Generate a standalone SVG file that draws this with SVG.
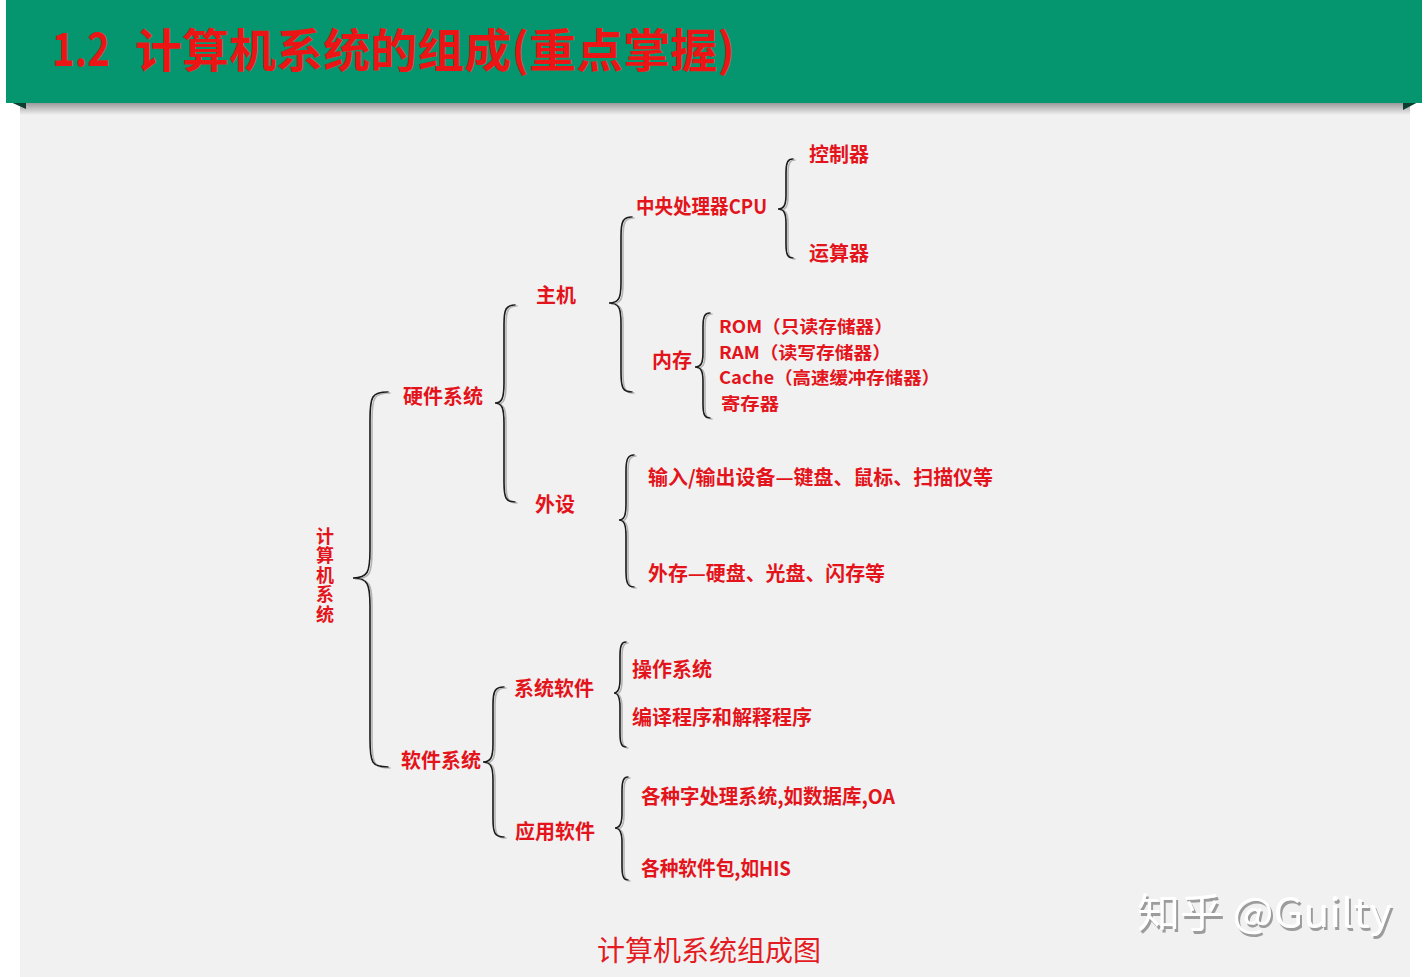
<svg xmlns="http://www.w3.org/2000/svg" width="1427" height="977" viewBox="0 0 1427 977">
  <style>
    .lbl { font-family: "Noto Sans CJK SC", "Liberation Sans", sans-serif; font-size: 20px; font-weight: bold; fill: #e3141b; }
    .mem { font-family: "Noto Sans CJK SC", "Liberation Sans", sans-serif; font-size: 17.5px; font-weight: bold; fill: #e3141b; }
    .root { font-family: "Noto Sans CJK SC", "Liberation Sans", sans-serif; font-size: 18px; font-weight: bold; fill: #e3141b; writing-mode: vertical-rl; text-orientation: upright; letter-spacing: 1.5px; }
    .brace { fill: none; stroke: #1a1a1a; stroke-width: 1.6; stroke-linecap: round; }
    .title { font-family: "Noto Sans CJK SC", "Liberation Sans", sans-serif; font-weight: bold; fill: #ec1515; }
  </style>
  <defs>
    <filter id="braceShadow" x="-20%" y="-5%" width="140%" height="110%">
      <feOffset in="SourceAlpha" dx="2" dy="1" result="off"/>
      <feFlood flood-color="#b4b4b4"/>
      <feComposite in2="off" operator="in" result="sh"/>
      <feMerge><feMergeNode in="sh"/><feMergeNode in="SourceGraphic"/></feMerge>
    </filter>
    <filter id="markShadow" x="-5%" y="-20%" width="110%" height="140%">
      <feOffset in="SourceAlpha" dx="2" dy="3" result="off"/>
      <feFlood flood-color="#9c9c9c"/>
      <feComposite in2="off" operator="in" result="sh"/>
      <feMerge><feMergeNode in="sh"/><feMergeNode in="SourceGraphic"/></feMerge>
    </filter>
    <linearGradient id="bandShade" x1="0" y1="0" x2="0" y2="1">
      <stop offset="0" stop-color="#9a9a9a"/>
      <stop offset="1" stop-color="#f1f1f1"/>
    </linearGradient>
  </defs>

  <!-- page -->
  <rect x="0" y="0" width="1427" height="977" fill="#ffffff"/>
  <rect x="20" y="103" width="1390" height="874" fill="#f1f1f1"/>
  <rect x="20" y="103" width="1390" height="12" fill="url(#bandShade)"/>

  <!-- title band -->
  <g id="header">
    <polygon points="6,100 26,100 26,109" fill="#0b3d30"/>
    <polygon points="1422,100 1403,100 1403,110" fill="#0b3d30"/>
    <rect x="6" y="0" width="1416" height="103" fill="#05966f"/>
    <text class="title" x="52" y="66" font-size="46" textLength="58" lengthAdjust="spacingAndGlyphs">1.2</text>
    <text class="title" x="135" y="67" font-size="46" textLength="600" lengthAdjust="spacingAndGlyphs">计算机系统的组成(重点掌握)</text>
  </g>

  <!-- brackets -->
  <g id="connectors" filter="url(#braceShadow)">
    <path class="brace" d="M388,392 C372,392 370,396 370,420 L370,550 C370,572 368,578 353,578 C368,578 370,584 370,606 L370,739 C370,763 372,767 388,767"/>
    <path class="brace" d="M515,305 C506,305 504,309 504,325 L504,383 C504,398 502,403 495,403 C502,403 504,408 504,423 L504,482 C504,498 506,502 515,502"/>
    <path class="brace" d="M632,217 C623,217 621,221 621,237 L621,283 C621,298 619,303 609,303 C619,303 621,308 621,323 L621,372 C621,388 623,392 632,392"/>
    <path class="brace" d="M793,159 C788,159 786,162 786,173 L786,195 C786,205 784,209 778,209 C784,209 786,213 786,223 L786,244 C786,255 788,258 793,258"/>
    <path class="brace" d="M710,313 C705,313 703,316 703,327 L703,353 C703,363 701,367 695,367 C701,367 703,371 703,381 L703,404 C703,415 705,418 710,418"/>
    <path class="brace" d="M634,455 C628,455 626,459 626,471 L626,504 C626,516 624,520 619,520 C624,520 626,524 626,536 L626,571 C626,583 628,587 634,587"/>
    <path class="brace" d="M504,687 C495,687 493,691 493,705 L493,744 C493,757 491,762 483,762 C491,762 493,767 493,780 L493,819 C493,833 495,837 504,837"/>
    <path class="brace" d="M626,642 C622,642 620,645 620,656 L620,679 C620,689 618,693 614,693 C618,693 620,697 620,707 L620,733 C620,744 622,747 626,747"/>
    <path class="brace" d="M628,777 C624,777 622,780 622,791 L622,814 C622,824 620,828 615,828 C620,828 622,832 622,842 L622,866 C622,877 624,880 628,880"/>
  </g>

  <!-- tree nodes -->
  <g id="node-computer"><text class="root" x="325" y="527">计算机系统</text></g>
  <g id="node-hardware"><text class="lbl" x="403" y="404">硬件系统</text></g>
  <g id="node-host"><text class="lbl" x="536" y="303">主机</text></g>
  <g id="node-cpu"><text class="lbl" x="636" y="214" textLength="131" lengthAdjust="spacingAndGlyphs">中央处理器CPU</text></g>
  <g id="node-controller"><text class="lbl" x="809" y="162">控制器</text></g>
  <g id="node-alu"><text class="lbl" x="809" y="261">运算器</text></g>
  <g id="node-memory"><text class="lbl" x="652" y="368">内存</text></g>
  <g id="node-rom"><text class="mem" x="719" y="333" textLength="174" lengthAdjust="spacingAndGlyphs">ROM（只读存储器）</text></g>
  <g id="node-ram"><text class="mem" x="719" y="358.5" textLength="172" lengthAdjust="spacingAndGlyphs">RAM（读写存储器）</text></g>
  <g id="node-cache"><text class="mem" x="719" y="384" textLength="221" lengthAdjust="spacingAndGlyphs">Cache（高速缓冲存储器）</text></g>
  <g id="node-register"><text class="mem" x="721" y="409.5" textLength="58" lengthAdjust="spacingAndGlyphs">寄存器</text></g>
  <g id="node-peripheral"><text class="lbl" x="535" y="512">外设</text></g>
  <g id="node-io"><text class="lbl" x="648" y="485" textLength="345" lengthAdjust="spacingAndGlyphs">输入/输出设备—键盘、鼠标、扫描仪等</text></g>
  <g id="node-storage"><text class="lbl" x="648" y="581" textLength="237" lengthAdjust="spacingAndGlyphs">外存—硬盘、光盘、闪存等</text></g>
  <g id="node-software"><text class="lbl" x="401" y="768">软件系统</text></g>
  <g id="node-syssoft"><text class="lbl" x="514" y="696">系统软件</text></g>
  <g id="node-os"><text class="lbl" x="632" y="677">操作系统</text></g>
  <g id="node-compiler"><text class="lbl" x="632" y="725">编译程序和解释程序</text></g>
  <g id="node-appsoft"><text class="lbl" x="515" y="839">应用软件</text></g>
  <g id="node-office"><text class="lbl" x="641" y="804" textLength="254" lengthAdjust="spacingAndGlyphs">各种字处理系统,如数据库,OA</text></g>
  <g id="node-package"><text class="lbl" x="641" y="876" textLength="150" lengthAdjust="spacingAndGlyphs">各种软件包,如HIS</text></g>

  <!-- caption -->
  <text x="709" y="961" text-anchor="middle" font-family="Noto Sans CJK SC, Liberation Sans, sans-serif" font-size="28" fill="#e31b23">计算机系统组成图</text>

  <!-- signature -->
  <text x="1137" y="927" font-family="Noto Sans CJK SC, Liberation Sans, sans-serif" font-size="40" fill="#ffffff" filter="url(#markShadow)" textLength="255" lengthAdjust="spacingAndGlyphs">知乎 @Guilty</text>
</svg>
